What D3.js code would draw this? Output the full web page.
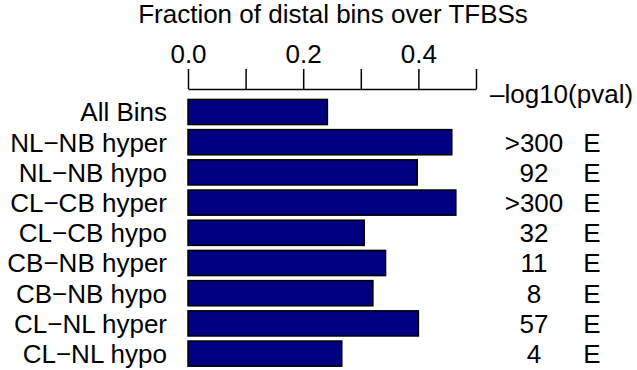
<!DOCTYPE html>
<html>
<head>
<meta charset="utf-8">
<script src="https://cdn.jsdelivr.net/npm/d3@7"></script>
<style>
  html, body { margin: 0; padding: 0; background: #fff; }
  svg { display: block; }
  text { font-family: "Liberation Sans", Arial, Helvetica, sans-serif; fill: #000; }
</style>
</head>
<body>
<svg id="chart" width="637" height="370"></svg>
<script>
// Groups compared, top to bottom
const categories = [
  "All Bins", "NL\u2212NB hyper", "NL\u2212NB hypo", "CL\u2212CB hyper", "CL\u2212CB hypo",
  "CB\u2212NB hyper", "CB\u2212NB hypo", "CL\u2212NL hyper", "CL\u2212NL hypo"
];
// Fraction of distal bins over TFBSs for each group
const fractions = [0.242, 0.458, 0.398, 0.465, 0.306, 0.343, 0.321, 0.400, 0.267];
// -log10(p-value) annotation per group (none for the background set)
const pvalLabels = ["", ">300", "92", ">300", "32", "11", "8", "57", "4"];
const flagLabels = ["", "E", "E", "E", "E", "E", "E", "E", "E"];
// Axis ticks and which of them carry a label
const tickValues = [0, 0.1, 0.2, 0.3, 0.4, 0.5];
const tickLabels = ["0.0", "", "0.2", "", "0.4", ""];

const svg = d3.select("#chart");
const fs = 26;

const x = d3.scaleLinear().domain([0, 0.5]).range([188, 476]);
const y = d3.scaleBand()
  .domain(categories)
  .range([96.9, 368.7])
  .paddingInner(1 / 6)
  .paddingOuter(1 / 12);

// Title above the axis
svg.append("text")
  .attr("x", 333)
  .attr("y", 23)
  .attr("text-anchor", "middle")
  .style("font-size", fs + "px")
  .text("Fraction of distal bins over TFBSs");

// Top axis with upward ticks
const axis = d3.axisTop(x)
  .tickValues(tickValues)
  .tickSize(20)
  .tickSizeOuter(0)
  .tickPadding(6)
  .tickFormat((d, i) => tickLabels[i]);

const gAxis = svg.append("g")
  .attr("transform", "translate(0,89)")
  .call(axis);
gAxis.select(".domain").attr("stroke", "#000").attr("stroke-width", 1.5);
gAxis.selectAll(".tick line").attr("stroke", "#000").attr("stroke-width", 1.5);
gAxis.selectAll(".tick text")
  .style("font-size", fs + "px")
  .style("font-family", "'Liberation Sans', Arial, Helvetica, sans-serif")
  .attr("fill", "#000");

// Bars
svg.append("g").selectAll("rect")
  .data(categories)
  .join("rect")
  .attr("x", x(0))
  .attr("y", d => y(d))
  .attr("width", (d, i) => x(fractions[i]) - x(0))
  .attr("height", y.bandwidth())
  .attr("fill", "#000080")
  .attr("stroke", "#000")
  .attr("stroke-width", 1.5);

// Group names
svg.append("g").selectAll("text")
  .data(categories)
  .join("text")
  .attr("x", 167)
  .attr("y", d => y(d) + y.bandwidth() / 2)
  .attr("dy", "0.36em")
  .attr("text-anchor", "end")
  .style("font-size", fs + "px")
  .text(d => d);

// Right-hand annotation column
svg.append("text")
  .attr("x", 490)
  .attr("y", 103)
  .style("font-size", fs + "px")
  .text("\u2013log10(pval)");

svg.append("g").selectAll("text")
  .data(categories)
  .join("text")
  .attr("x", 534)
  .attr("y", d => y(d) + y.bandwidth() / 2)
  .attr("dy", "0.36em")
  .attr("text-anchor", "middle")
  .style("font-size", fs + "px")
  .text((d, i) => pvalLabels[i]);

svg.append("g").selectAll("text")
  .data(categories)
  .join("text")
  .attr("x", 592)
  .attr("y", d => y(d) + y.bandwidth() / 2)
  .attr("dy", "0.36em")
  .attr("text-anchor", "middle")
  .style("font-size", fs + "px")
  .text((d, i) => flagLabels[i]);
</script>
</body>
</html>
